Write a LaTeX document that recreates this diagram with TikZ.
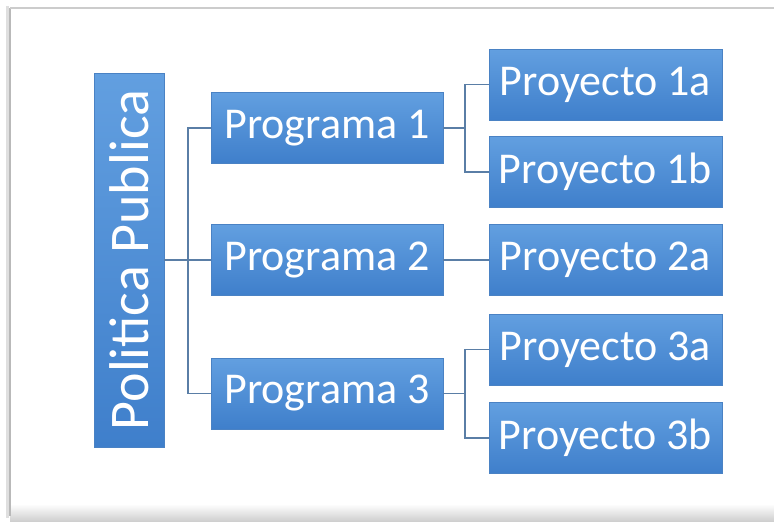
\documentclass[tikz,border=0pt]{standalone}
\usepackage{fontspec}
\setmainfont{Carlito}
\usetikzlibrary{positioning}
\definecolor{boxtop}{HTML}{629FE0}
\definecolor{boxbot}{HTML}{3F7FCB}
\definecolor{boxedge}{HTML}{4A82C4}
\definecolor{linkcol}{HTML}{5A7EA6}
\tikzset{
  caja/.style={rectangle, top color=boxtop, bottom color=boxbot, draw=boxedge, line width=0.6pt,
    text=white, inner sep=0pt, minimum height=71pt, font=\fontsize{44}{44}\selectfont},
  prog/.style={caja, minimum width=232pt},
  proy/.style={caja, minimum width=233pt},
  enlace/.style={draw=linkcol, line width=1.8pt}
}
\begin{document}
\begin{tikzpicture}[x=1pt,y=-1pt]
	\useasboundingbox (0,0) rectangle (774,522);
	% marco
	\shade[top color=white, bottom color=gray!40] (10,504) rectangle (774,522);
	\draw[gray!25, line width=3pt] (7,6) -- (7,518);
	\draw[gray!55, line width=1.2pt] (10,8) -- (10,516);
	\draw[gray!40, line width=1.2pt] (10,8) -- (774,8);
	% nodos
	\node[caja, minimum width=70pt, minimum height=374pt, font=\fontsize{56}{56}\selectfont] (pol) at (129,260) {\rotatebox{90}{Politica Publica}};
	\node[prog] (prog1) at (327,128) {Programa 1};
	\node[prog] (prog2) at (327,260) {Programa 2};
	\node[prog] (prog3) at (327,393.5) {Programa 3};
	\node[proy] (p1a) at (605.5,84.5) {Proyecto 1a};
	\node[proy] (p1b) at (605.5,172) {Proyecto 1b};
	\node[proy] (p2a) at (605.5,260) {Proyecto 2a};
	\node[proy] (p3a) at (605.5,349.5) {Proyecto 3a};
	\node[proy] (p3b) at (605.5,438) {Proyecto 3b};
	% lineas
	\draw[enlace] (pol.east) -- (prog2.west);
	\draw[enlace] (prog1.west) -- ++(-23,0) |- (prog3.west);
	\draw[enlace] (prog1.east) -- ++(22,0);
	\draw[enlace] (p1a.west) -- ++(-24,0) |- (p1b.west);
	\draw[enlace] (prog2.east) -- (p2a.west);
	\draw[enlace] (prog3.east) -- ++(22,0);
	\draw[enlace] (p3a.west) -- ++(-24,0) |- (p3b.west);
\end{tikzpicture}
\end{document}
